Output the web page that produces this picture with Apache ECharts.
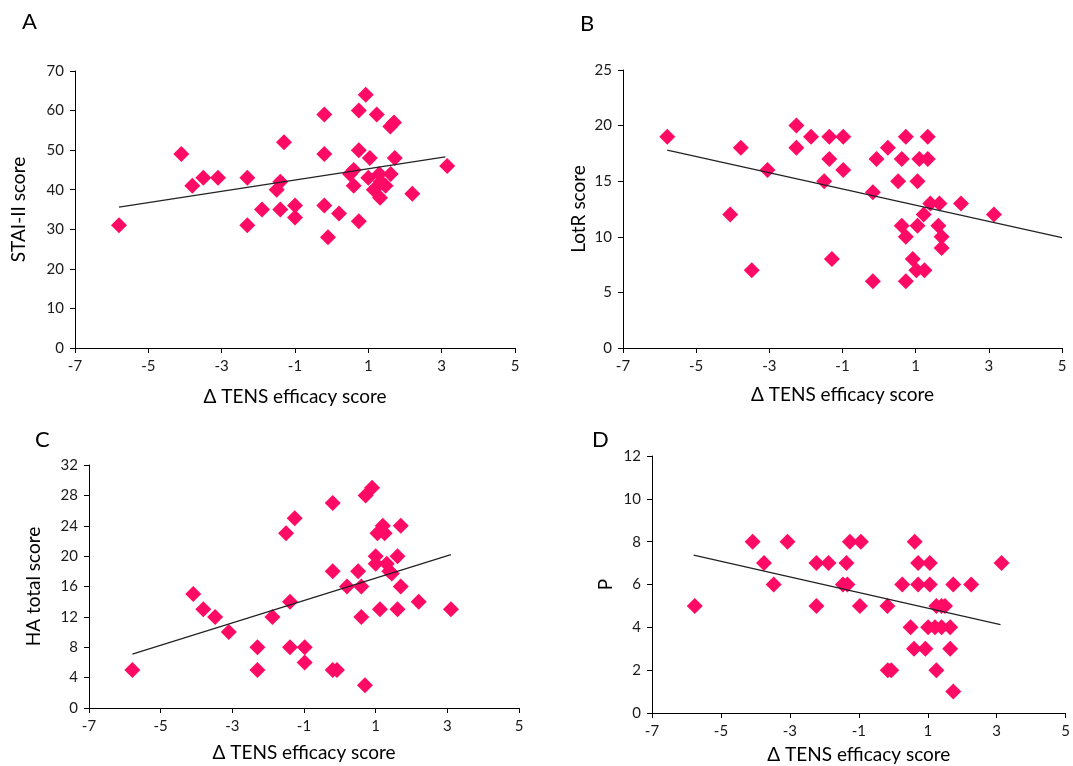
<!DOCTYPE html>
<html>
<head>
<meta charset="utf-8">
<script src="https://cdn.jsdelivr.net/npm/echarts@6/dist/echarts.min.js"></script>
<style>
html,body{margin:0;padding:0;background:#fff;}
#chart{width:1073px;height:766px;}
</style>
</head>
<body>
<div id="chart"></div>
<script>
// ---- Data ----
var xTicks = [-7, -5, -3, -1, 1, 3, 5];

// Panel A: STAI-II score vs Δ TENS efficacy score
var pointsA = [
  [-5.8,31],[-4.1,49],[-3.8,41],[-3.5,43],[-3.1,43],[-2.3,43],[-2.3,31],[-1.9,35],
  [-1.4,35],[-1.3,52],[-1.5,40],[-1.4,42],[-1.0,36],[-1.0,33],[-0.2,59],[-0.2,49],
  [-0.2,36],[-0.1,28],[0.2,34],[0.5,44],[0.6,45],[0.6,41],[0.74,60],[0.74,50],
  [0.74,32],[0.93,64],[1.23,59],[1.04,48],[1.6,56],[1.7,57],[1.72,48],[1.0,43],
  [1.15,40],[1.3,44],[1.34,42],[1.47,41],[1.32,38],[1.61,44],[2.2,39],[3.15,46]
];
var trendA = [[-5.8,35.6],[3.1,48.3]];

// Panel B: LotR score
var pointsB = [
  [-5.79,19],[-3.78,18],[-4.07,12],[-3.48,7],[-3.05,16],[-2.26,20],[-2.26,18],[-1.86,19],
  [-1.36,19],[-1.36,17],[-1.5,15],[-1.29,8],[-0.98,19],[-0.98,16],[-0.17,14],[-0.17,6],
  [-0.07,17],[0.24,18],[0.52,15],[0.62,17],[0.73,19],[0.62,11],[0.73,10],[0.73,6],
  [0.92,8],[1.02,7],[1.24,7],[1.05,11],[1.05,15],[1.1,17],[1.33,17],[1.33,19],
  [1.22,12],[1.4,13],[1.65,13],[1.62,11],[1.71,10],[1.71,9],[2.24,13],[3.14,12]
];
var trendB = [[-5.79,17.8],[5,9.93]];

// Panel C: HA total score
var pointsC = [
  [-5.79,5],[-4.09,15],[-3.81,13],[-3.48,12],[-3.1,10],[-2.3,8],[-2.3,5],[-1.88,12],
  [-1.5,23],[-1.26,25],[-1.39,14],[-1.39,8],[-0.98,8],[-0.98,6],[-0.2,27],[-0.2,18],
  [-0.2,5],[-0.08,5],[0.2,16],[0.51,18],[0.6,16],[0.6,12],[0.7,3],[0.72,28],
  [0.9,29],[1.0,20],[1.0,19],[1.05,23],[1.2,24],[1.25,23],[1.12,13],[1.31,19],
  [1.38,18],[1.45,17.7],[1.61,20],[1.7,24],[1.7,16],[1.61,13],[2.2,14],[3.1,13]
];
var trendC = [[-5.79,7.1],[3.1,20.2]];

// Panel D: P
var pointsD = [
  [-5.76,5],[-4.08,8],[-3.75,7],[-3.47,6],[-3.07,8],[-2.23,7],[-2.23,5],[-1.88,7],
  [-1.46,6],[-1.33,6],[-1.36,7],[-1.26,8],[-0.94,8],[-0.97,5],[-0.17,5],[-0.16,2],
  [-0.06,2],[0.26,6],[0.62,8],[0.72,7],[0.72,6],[0.5,4],[0.6,3],[0.93,3],
  [1.06,7],[1.06,6],[1.01,4],[1.21,4],[1.4,4],[1.65,4],[1.25,5],[1.4,5],
  [1.5,5],[1.25,2],[1.65,3],[1.74,6],[1.74,1],[2.26,6],[3.14,7]
];
var trendD = [[-5.79,7.37],[3.11,4.13]];

var yTitles = ['STAI-II score', 'LotR score', 'HA total score', 'P'];
var xTitle = '\u0394 TENS efficacy score';
var panelLetters = ['A', 'B', 'C', 'D'];
var yMax = [70, 25, 32, 12];
var yInterval = [10, 5, 4, 2];

// ---- Layout ----
var FONT = 'Lato, "Open Sans", sans-serif';
var grids = [
  {left: 75, top: 71, width: 440, height: 277},
  {left: 623, top: 70, width: 439, height: 278},
  {left: 89, top: 465, width: 430, height: 243},
  {left: 652, top: 456, width: 416, height: 257}
];
var yNameGap = [47, 35, 46, 37];
var xNameGap = [39, 37, 35, 32];
var letterPos = [[17, 6], [575, 8], [30, 424], [587, 424]];

var pointSets = [pointsA, pointsB, pointsC, pointsD];
var trendSets = [trendA, trendB, trendC, trendD];

function axisBase() {
  return {
    axisLine: {show: true, onZero: false, lineStyle: {color: '#000', width: 1}},
    axisTick: {show: true, inside: false, length: 5, lineStyle: {color: '#000'}},
    splitLine: {show: false},
    axisLabel: {color: '#1a1a1a', fontSize: 15, fontFamily: FONT, margin: 11},
    nameTextStyle: {color: '#000', fontSize: 19, fontFamily: FONT}
  };
}

var xAxes = [], yAxes = [], series = [], titles = [];
for (var i = 0; i < 4; i++) {
  xAxes.push(Object.assign(axisBase(), {
    type: 'value', gridIndex: i, min: -7, max: 5, interval: 2,
    name: xTitle, nameLocation: 'middle', nameGap: xNameGap[i]
  }));
  yAxes.push(Object.assign(axisBase(), {
    type: 'value', gridIndex: i, min: 0, max: yMax[i], interval: yInterval[i],
    name: yTitles[i], nameLocation: 'middle', nameGap: yNameGap[i], nameRotate: 90
  }));
  series.push({
    type: 'scatter', xAxisIndex: i, yAxisIndex: i, data: pointSets[i],
    symbol: 'diamond', symbolSize: 16,
    itemStyle: {color: '#FF0A64', opacity: 1},
    silent: true, z: 2
  });
  series.push({
    type: 'line', xAxisIndex: i, yAxisIndex: i, data: trendSets[i],
    symbol: 'none', lineStyle: {color: '#222', width: 1.2},
    silent: true, z: 3
  });
  titles.push({
    text: panelLetters[i], left: letterPos[i][0], top: letterPos[i][1],
    textStyle: {fontSize: 22, fontWeight: 'normal', color: '#000', fontFamily: FONT}
  });
}

var chart = echarts.init(document.getElementById('chart'), null, {renderer: 'canvas'});
chart.setOption({
  animation: false,
  backgroundColor: '#fff',
  title: titles,
  grid: grids,
  xAxis: xAxes,
  yAxis: yAxes,
  series: series
});
</script>
</body>
</html>
